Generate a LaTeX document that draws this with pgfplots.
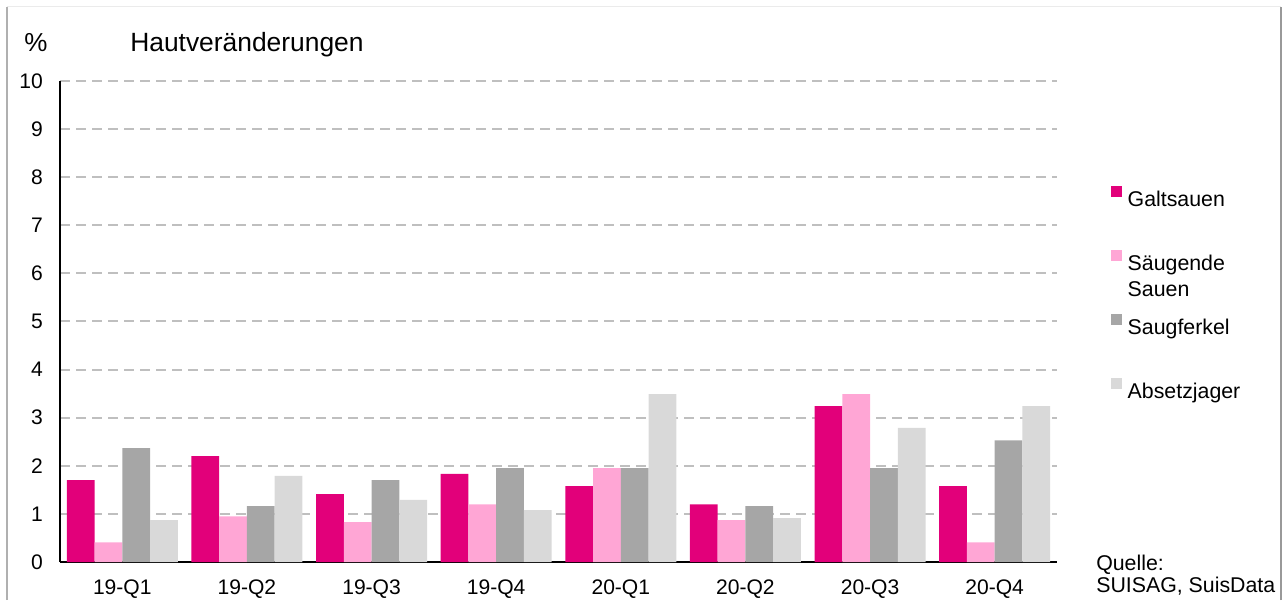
\documentclass[border=0pt]{standalone}
\usepackage{pgfplots}
\pgfplotsset{compat=1.18}
\usepackage{fontspec}
\setmainfont{Liberation Sans}
\definecolor{galt}{HTML}{E2007A}
\definecolor{saeug}{HTML}{FFA6D5}
\definecolor{ferkel}{HTML}{A6A6A6}
\definecolor{absetz}{HTML}{D9D9D9}
\definecolor{gridgray}{HTML}{BFBFBF}
\definecolor{frameL}{HTML}{B0B0B0}
\definecolor{frameR}{HTML}{999999}
\definecolor{frameT}{HTML}{EBEBEB}
\begin{document}
\begin{tikzpicture}[x=1pt,y=1pt]
\useasboundingbox (0,0) rectangle (963.75,450);
\draw[line width=0.75pt, frameT] (5.25,444.75) -- (960.75,444.75);
\draw[line width=1.5pt, frameL] (5.25,0) -- (5.25,444.75);
\draw[line width=1.5pt, frameR] (960.75,0) -- (960.75,444.75);
\node[anchor=base west, inner sep=0pt, font=\fontsize{19.5}{23}\selectfont] at (18,411) {\%};
\node[anchor=base west, inner sep=0pt, font=\fontsize{19.8}{23}\selectfont] at (97.5,411) {Hautveränderungen};
\node[anchor=base west, inner sep=0pt, font=\fontsize{16}{19}\selectfont] at (822,22.5) {Quelle:};
\node[anchor=base west, inner sep=0pt, font=\fontsize{16}{19}\selectfont] at (822,6) {SUISAG, SuisData};
\begin{axis}[
  at={(45pt,28.5pt)}, anchor=south west,
  scale only axis, width=747.75pt, height=360.75pt,
  ybar=0pt, bar width=20.8pt,
  xmin=-0.5, xmax=7.5, ymin=0, ymax=10,
  xtick={0,...,7},
  xticklabels={19-Q1,19-Q2,19-Q3,19-Q4,20-Q1,20-Q2,20-Q3,20-Q4},
  ytick={0,...,10},
  axis lines*=left,
  axis line style={line width=1.2pt, black},
  major tick length=0pt,
  ymajorgrids,
  major grid style={dash pattern=on 7.5pt off 4.5pt, line width=1.5pt, color=gridgray},
  tick label style={font=\fontsize{15.8}{18}\selectfont},
  /pgf/number format/assume math mode=true,
  yticklabel style={inner sep=0pt, xshift=-12.75pt},
  xticklabel style={inner sep=0pt, yshift=-13pt},
  legend cell align=left,
  legend style={draw=none, fill=none, inner sep=0pt, outer sep=0pt,
    at={(1.0542,0.7817)}, anchor=north west, row sep=28.6pt,
    /tikz/every odd column/.append style={column sep=4.5pt},
    nodes={inner sep=0pt, text height=12pt, text depth=4pt,
      font=\fontsize{16}{19.5}\selectfont}},
  legend image code/.code={\fill[#1,draw=none] (0pt,3.4pt) rectangle (8pt,11.4pt);},
]
\addplot[fill=galt, draw=none] coordinates {(0,1.70) (1,2.20) (2,1.41) (3,1.83) (4,1.58) (5,1.20) (6,3.24) (7,1.58)};
\addlegendentry{Galtsauen}
\addplot[fill=saeug, draw=none] coordinates {(0,0.41) (1,0.95) (2,0.83) (3,1.20) (4,1.95) (5,0.87) (6,3.49) (7,0.41)};
\addlegendentry{\vtop{\hbox{Säugende}\hbox{Sauen}}}
\addplot[fill=ferkel, draw=none] coordinates {(0,2.37) (1,1.16) (2,1.70) (3,1.95) (4,1.95) (5,1.16) (6,1.95) (7,2.53)};
\addlegendentry{Saugferkel}
\addplot[fill=absetz, draw=none] coordinates {(0,0.87) (1,1.79) (2,1.29) (3,1.08) (4,3.49) (5,0.91) (6,2.79) (7,3.24)};
\addlegendentry{Absetzjager}
\end{axis}
\end{tikzpicture}
\end{document}
